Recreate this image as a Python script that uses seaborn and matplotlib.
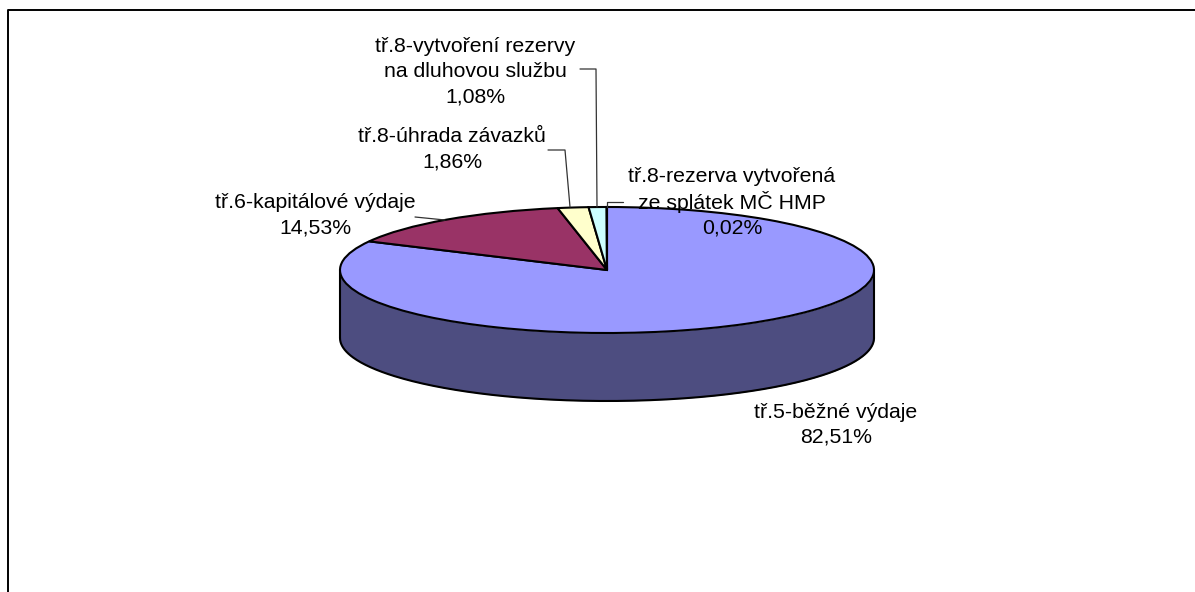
import numpy as np
import matplotlib
matplotlib.use("Agg")
import matplotlib.pyplot as plt
import seaborn as sns

categories = ["tř.5-běžné výdaje", "tř.6-kapitálové výdaje", "tř.8-úhrada závazků",
              "tř.8-vytvoření rezervy\nna dluhovou službu",
              "tř.8-rezerva vytvořená\nze splátek MČ HMP"]
shares = [82.51, 14.53, 1.86, 1.08, 0.02]
colours = ["#9999FF", "#993366", "#FFFFCC", "#CCFFFF", "#660066"]
side_colour = "#4D4D80"

W, H = 1195, 592
CX, CY, RX, RY, DEPTH = 607, 270, 267, 63, 68

sns.set_theme(style="white")
plt.rcParams["font.family"] = ["Liberation Sans", "DejaVu Sans"]

fig = plt.figure(figsize=(W / 100, H / 100), dpi=100, facecolor="white")
ax = fig.add_axes([0, 0, 1, 1])

def X(px):
    return (px - CX) / RX
def Y(py):
    return (CY - py) / RY

# side of the cylinder
t = np.linspace(np.pi, 2 * np.pi, 300)
d = DEPTH / RY
xs = np.cos(t)
ax.fill_between(xs, np.sin(t), np.sin(t) - d, color=side_colour, lw=0, zorder=1)
ax.plot(xs, np.sin(t) - d, color="black", lw=1.5, zorder=2)
ax.plot([-1, -1], [0, -d], color="black", lw=1.5, zorder=2)
ax.plot([1, 1], [0, -d], color="black", lw=1.5, zorder=2)

# top face
wedges, _ = ax.pie(shares, colors=colours, startangle=90, counterclock=False, radius=1,
                   wedgeprops=dict(edgecolor="black", linewidth=1.5, zorder=3))
ax.set_aspect("auto")
ax.set_xlim(X(0), X(W))
ax.set_ylim(Y(H), Y(0))
ax.axis("off")

# chart frame: left and top edges only reach into the picture
ax.plot([X(7.5), X(7.5), X(W + 5)], [Y(H + 5), Y(10.5), Y(10.5)],
        color="black", lw=1.4, zorder=0)

# data labels: (centre x, top-line centre y)
label_pos = [(836, 412), (315, 203), (452, 137), (475, 46), (732, 177)]
for name, val, (lx, ly) in zip(categories, shares, label_pos):
    lines = name.split("\n") + [f"{val:.2f}%".replace(".", ",")]
    for i, line in enumerate(lines):
        ax.text(X(lx), Y(ly + i * 25.5), line, ha="center", va="center",
                fontsize=15.3, color="black", zorder=5)

# leader lines
leaders = [
    ([(415, 217), (445, 220)]),
    ([(548, 150), (565, 150), (570, 207)]),
    ([(580, 69), (596, 69), (597, 207)]),
    ([(623, 202), (607, 202), (607, 207)]),
]
for pts in leaders:
    ax.plot([X(p[0]) for p in pts], [Y(p[1]) for p in pts], color="#333333", lw=0.9, zorder=4)

fig.savefig("out.png", dpi=100, facecolor="white")
